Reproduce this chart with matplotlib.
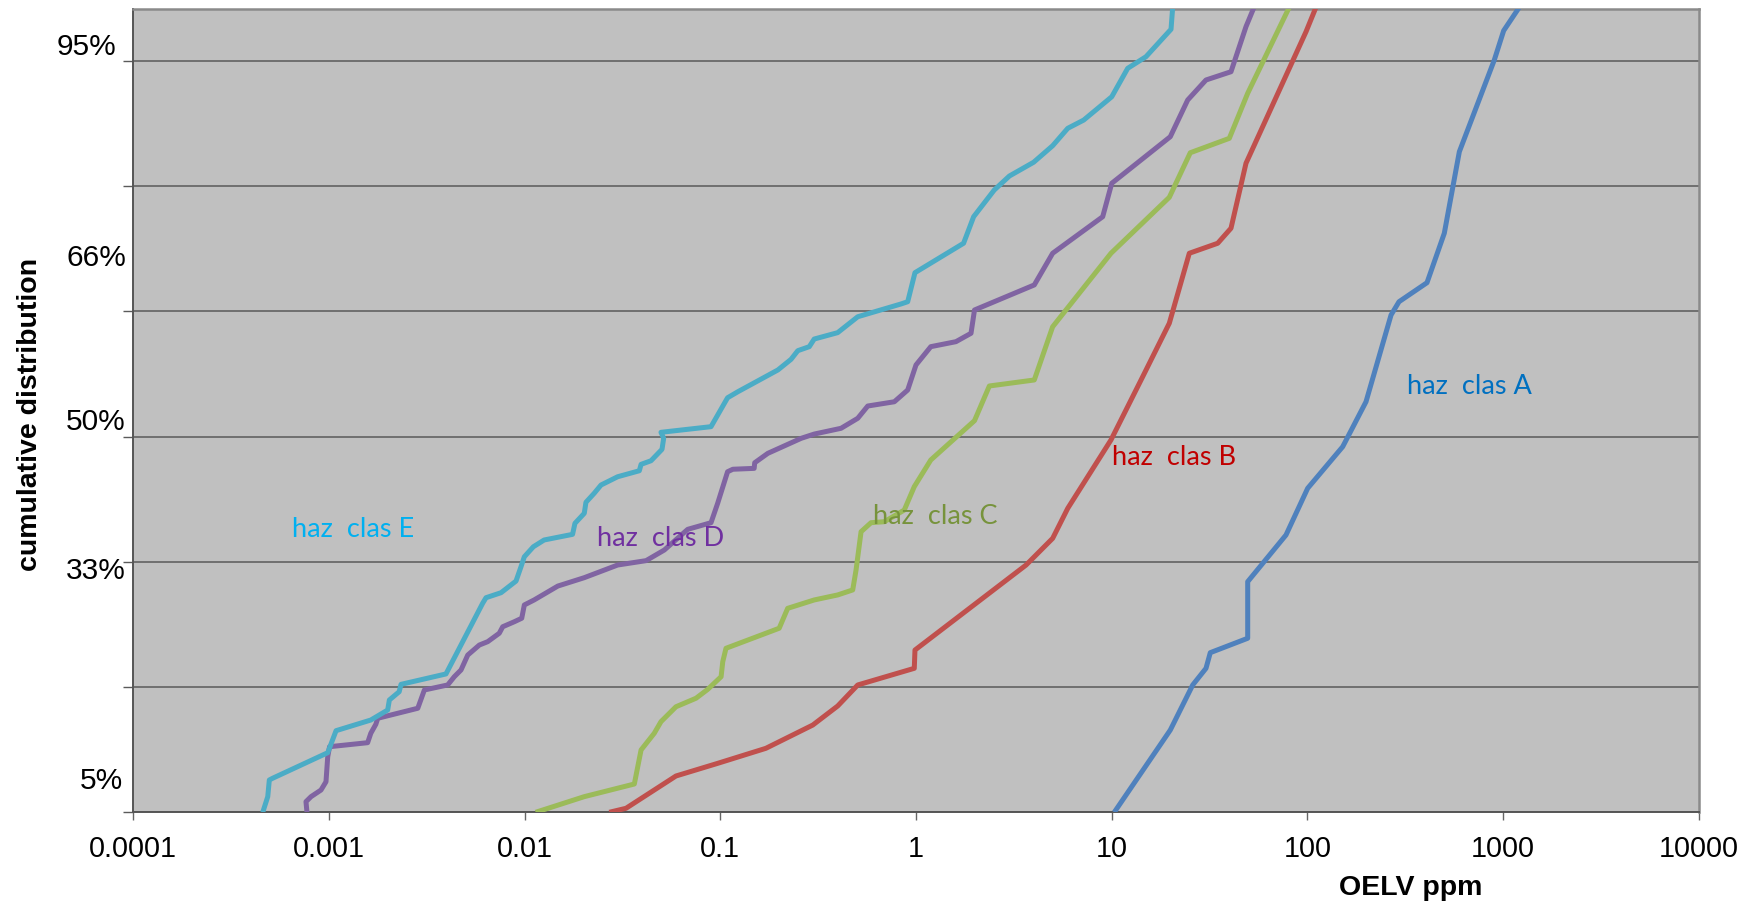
import matplotlib.pyplot as plt
from matplotlib.ticker import NullLocator

# OELV (ppm) against cumulative rank (0-64 scale) for each hazard class
oelv_a = [10.30, 19.91, 25.92, 30.30, 31.87, 49.49, 49.49, 77.66, 100.2, 151.3,
          199.0, 267.2, 293.4, 407.8, 499.9, 596.6, 900.3, 1005, 1208]
cum_a = [0, 6.57, 10.17, 11.50, 12.75, 13.90, 18.42, 22.15, 25.88, 29.20,
         32.79, 39.72, 40.78, 42.30, 46.25, 52.76, 60.09, 62.43, 64.3]

oelv_b = [0.0271, 0.0330, 0.0594, 0.0970, 0.171, 0.297, 0.398, 0.504, 0.980, 0.988,
          3.65, 4.99, 5.96, 9.91, 14.39, 19.68, 24.90, 34.78, 40.66, 48.51,
          98.3, 110.5]
cum_b = [0, 0.32, 2.90, 3.91, 5.11, 6.97, 8.49, 10.17, 11.50, 12.96,
         19.75, 21.88, 24.28, 29.74, 34.79, 39.06, 44.65, 45.45, 46.65, 51.84,
         62.35, 64.3]

oelv_c = [0.0114, 0.0202, 0.0364, 0.0394, 0.0460, 0.0498, 0.0594, 0.0752, 0.0863, 0.101,
          0.103, 0.107, 0.200, 0.221, 0.302, 0.398, 0.475, 0.494, 0.524, 0.589,
          0.689, 0.871, 0.980, 1.19, 1.99, 2.37, 4.02, 4.99, 9.91, 19.68,
          25.19, 39.86, 49.49, 80.7]
cum_c = [0, 1.25, 2.26, 4.98, 6.31, 7.24, 8.43, 9.11, 9.82, 10.83,
         12.03, 13.10, 14.70, 16.29, 16.96, 17.36, 17.76, 19.35, 22.41, 23.13,
         23.21, 24.14, 26.01, 28.14, 31.28, 34.05, 34.53, 38.78, 44.65, 49.12,
         52.68, 53.83, 57.43, 64.3]

oelv_d = [0.000774, 0.000765, 0.000812, 0.000913, 0.000968, 0.000988, 0.00101, 0.00158, 0.00164, 0.00174,
          0.00178, 0.00285, 0.00308, 0.00405, 0.00438, 0.00474, 0.00513, 0.00588, 0.00649, 0.00743,
          0.00774, 0.00887, 0.00968, 0.00998, 0.0112, 0.0148, 0.0202, 0.0299, 0.0418, 0.0518,
          0.0682, 0.0897, 0.0970, 0.109, 0.116, 0.149, 0.150, 0.175, 0.259, 0.302,
          0.414, 0.504, 0.567, 0.775, 0.907, 1.0, 1.19, 1.60, 1.91, 1.99,
          4.02, 4.99, 8.99, 10.0, 19.91, 24.43, 30.30, 40.66, 48.51, 53.49]
cum_d = [0, 0.85, 1.25, 1.78, 2.44, 4.44, 5.24, 5.56, 6.31, 7.03,
         7.51, 8.31, 9.77, 10.17, 10.83, 11.37, 12.56, 13.36, 13.63, 14.30,
         14.82, 15.22, 15.50, 16.56, 16.96, 18.07, 18.74, 19.75, 20.10, 20.95,
         22.60, 23.13, 24.68, 27.20, 27.40, 27.47, 27.92, 28.67, 29.87, 30.21,
         30.67, 31.47, 32.45, 32.79, 33.73, 35.73, 37.19, 37.59, 38.26, 40.12,
         42.12, 44.65, 47.57, 50.24, 53.96, 56.89, 58.49, 59.15, 62.75, 64.35]

oelv_e = [0.000460, 0.000488, 0.000497, 0.000517, 0.000988, 0.00109, 0.00164, 0.00200, 0.00204, 0.00229,
          0.00234, 0.00397, 0.00611, 0.00636, 0.00759, 0.00905, 0.00960, 0.00998, 0.0111, 0.0126,
          0.0176, 0.0181, 0.0202, 0.0206, 0.0227, 0.0246, 0.0299, 0.0386, 0.0394, 0.0443,
          0.0504, 0.0514, 0.0498, 0.0897, 0.109, 0.123, 0.197, 0.230, 0.249, 0.285,
          0.302, 0.398, 0.504, 0.838, 0.907, 0.988, 1.75, 1.97, 2.51, 3.00,
          3.99, 4.99, 5.96, 7.19, 10.0, 12.06, 14.96, 20.08, 20.48]
cum_e = [0, 1.25, 2.58, 2.72, 4.76, 6.52, 7.37, 8.17, 8.97, 9.63,
         10.22, 11.05, 16.69, 17.14, 17.54, 18.47, 19.62, 20.41, 21.21, 21.75,
         22.20, 23.08, 23.88, 24.76, 25.48, 26.14, 26.80, 27.28, 27.79, 28.08,
         28.99, 29.87, 30.35, 30.80, 33.11, 33.59, 35.33, 36.18, 36.87, 37.19,
         37.80, 38.31, 39.58, 40.60, 40.78, 43.10, 45.45, 47.57, 49.70, 50.82,
         51.92, 53.24, 54.63, 55.29, 57.15, 59.42, 60.35, 62.54, 64.3]

xtick_values = [0.0001, 0.001, 0.01, 0.1, 1, 10, 100, 1000, 10000]
xtick_labels = ['0.0001', '0.001', '0.01', '0.1', '1', '10', '100', '1000', '10000']
pct_labels = ['5%', '33%', '50%', '66%', '95%']
pct_rank = [2.5, 19.3, 31.2, 44.3, 61.1]
pct_gap = [7, 5, 5, 5, 12]  # distance from the axis, points

series = [
    ('haz  clas A', oelv_a, cum_a, '#4F81BD', '#0070C0', (1407, 387)),
    ('haz  clas B', oelv_b, cum_b, '#C0504D', '#C00000', (1112, 457)),
    ('haz  clas C', oelv_c, cum_c, '#9BBB59', '#77933C', (873, 516)),
    ('haz  clas D', oelv_d, cum_d, '#8064A2', '#7030A0', (597, 538)),
    ('haz  clas E', oelv_e, cum_e, '#4BACC6', '#00B0F0', (292, 529)),
]

W, H = 1756, 905
fig = plt.figure(figsize=(W / 100, H / 100), dpi=100)
ax = fig.add_axes([133 / W, 1 - 812.3 / H, (1699 - 133) / W, (812.3 - 9) / H])
ax.set_facecolor('#C0C0C0')

for name, x, y, line_col, text_col, (tx, ty) in series:
    ax.plot(x, y, color=line_col, lw=3.6, solid_joinstyle='round',
            solid_capstyle='butt', zorder=3)
    fig.text(tx / W, 1 - ty / H, name, color=text_col, fontsize=19.5,
             family='Lato', ha='left', va='center', zorder=5)

ax.set_xscale('log')
ax.set_xlim(0.0001, 10000)
ax.set_ylim(0, 64.16)
ax.set_xticks(xtick_values, labels=xtick_labels)
ax.xaxis.set_minor_locator(NullLocator())
ax.set_yticks(range(0, 61, 10), labels=[])
ax.grid(axis='y', color='#5A5A5A', lw=1.1, zorder=1)
ax.set_axisbelow(True)

ax.tick_params(axis='x', direction='out', length=6, width=1, color='#666666',
               pad=10, labelsize=20.7)
ax.tick_params(axis='y', direction='out', length=7.5, width=1, color='#5A5A5A')
for lbl in ax.get_xticklabels():
    lbl.set_family('Liberation Sans')

for lbl, yv, gap in zip(pct_labels, pct_rank, pct_gap):
    ax.annotate(lbl, xy=(0, yv), xycoords=('axes fraction', 'data'),
                xytext=(-gap, 0), textcoords='offset points', ha='right',
                va='center', fontsize=21.5, family='Liberation Sans')

for side in ('left', 'bottom'):
    ax.spines[side].set_color('#555555')
    ax.spines[side].set_linewidth(1.4)
for side in ('top', 'right'):
    ax.spines[side].set_color('#8A8A8A')
    ax.spines[side].set_linewidth(1.8)

fig.text(30 / W, 1 - 414 / H, 'cumulative distribution', rotation=90,
         ha='center', va='center', fontsize=20.5, fontweight='bold',
         family='Liberation Sans')
fig.text(1411 / W, 1 - 888 / H, 'OELV ppm', ha='center', va='center',
         fontsize=20.5, fontweight='bold', family='Liberation Sans')

fig.savefig('out.png', dpi=100)
